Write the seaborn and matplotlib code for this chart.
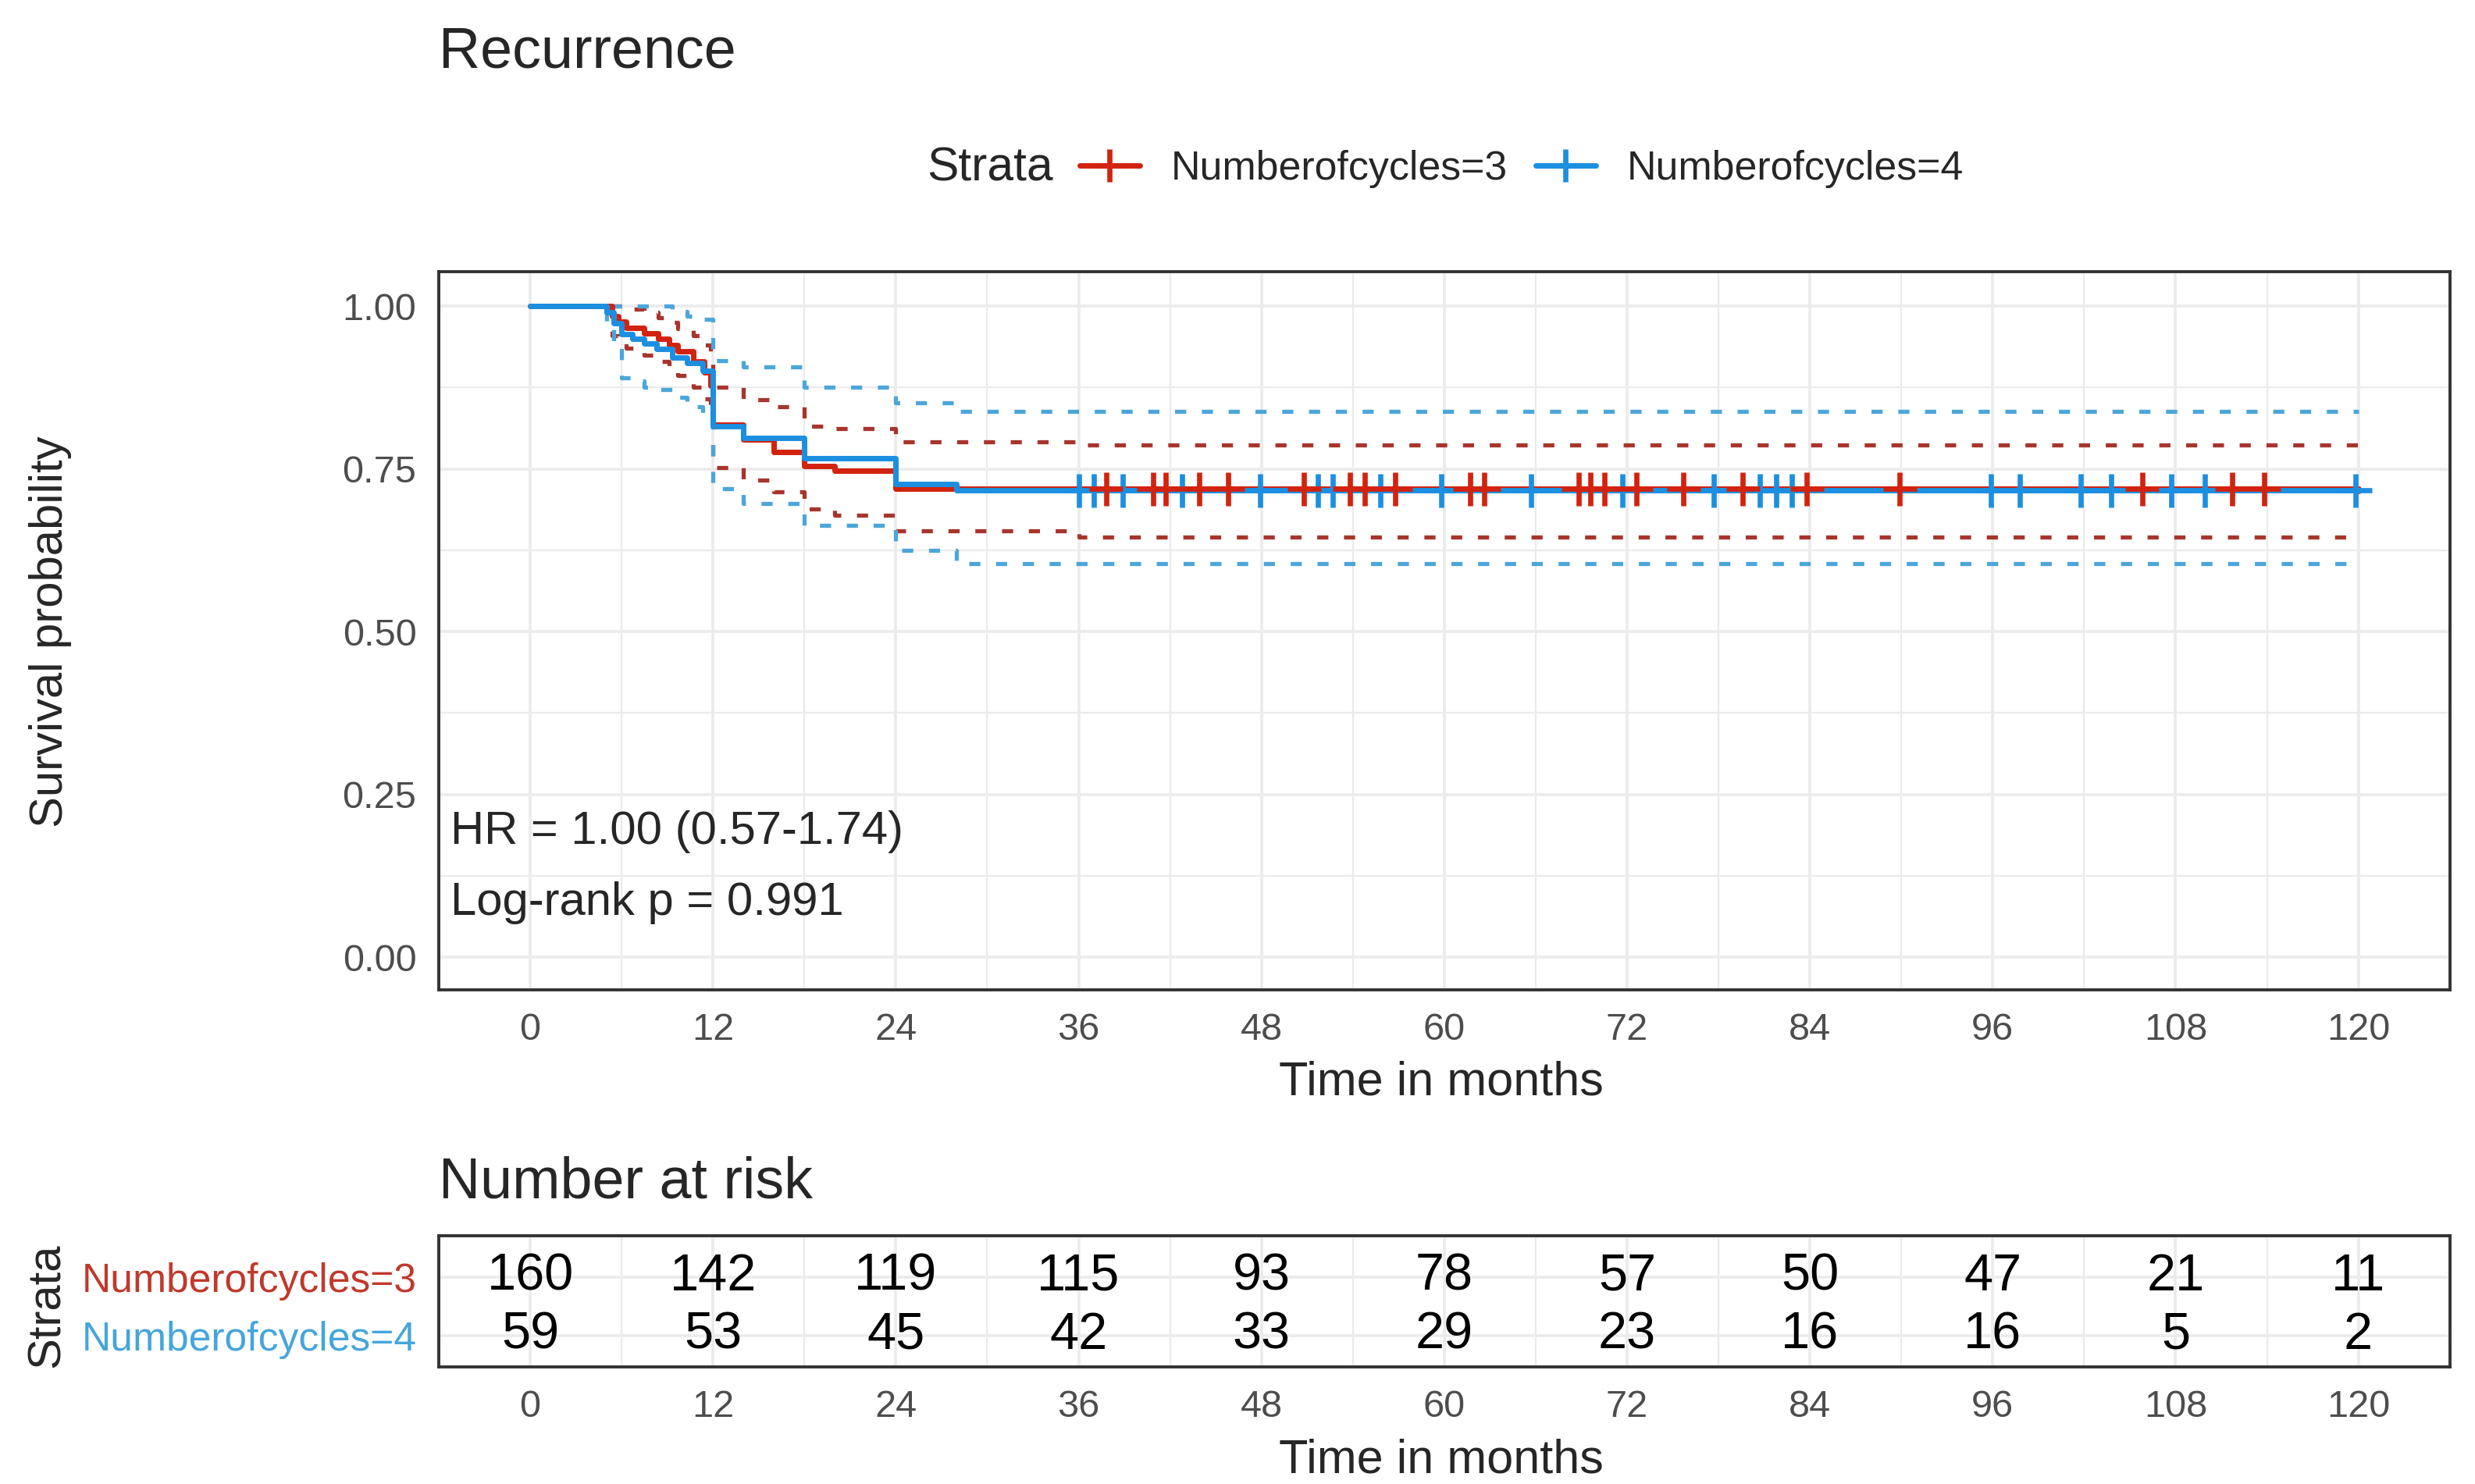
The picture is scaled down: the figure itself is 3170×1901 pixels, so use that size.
import numpy as np
import pandas as pd
import matplotlib
matplotlib.use('Agg')
import matplotlib.pyplot as plt
from matplotlib.lines import Line2D
from matplotlib.ticker import MultipleLocator
import seaborn as sns

# Kaplan-Meier steps (months, survival)
red_t = [0, 5.4, 5.8, 6.3, 7.5, 8.4, 9.1, 9.7, 10.7, 11.4, 11.85, 12.0, 14.0, 16.0, 18.0, 20.0, 24.0, 120]
red_s = [1.0, 0.985, 0.976, 0.966, 0.958, 0.950, 0.940, 0.930, 0.915, 0.898, 0.878, 0.818, 0.795, 0.776,
         0.754, 0.747, 0.719, 0.716]
red_up = [1.0, 1.0, 1.0, 0.995, 0.990, 0.982, 0.975, 0.965, 0.955, 0.940, 0.925, 0.876, 0.856, 0.845,
          0.816, 0.812, 0.792, 0.792]
red_lo = [1.0, 0.955, 0.945, 0.935, 0.925, 0.915, 0.905, 0.893, 0.876, 0.857, 0.835, 0.752, 0.733, 0.715,
          0.689, 0.679, 0.655, 0.655]
red_lo_t36 = 0.645
red_up_t36 = 0.787

blue_t = [0, 5.0, 5.5, 6.0, 6.7, 7.5, 8.3, 9.3, 10.3, 11.3, 12.0, 14.0, 18.0, 24.0, 28.0, 120]
blue_s = [1.0, 0.990, 0.974, 0.957, 0.950, 0.942, 0.934, 0.921, 0.913, 0.900, 0.816, 0.798, 0.766,
          0.727, 0.717, 0.717]
blue_up = [1.0, 1.0, 1.0, 1.0, 1.0, 1.0, 1.0, 0.992, 0.985, 0.980, 0.916, 0.906, 0.876, 0.852, 0.838, 0.838]
blue_lo = [1.0, 0.970, 0.940, 0.890, 0.885, 0.875, 0.872, 0.860, 0.846, 0.835, 0.719, 0.697, 0.663,
           0.625, 0.605, 0.605]

red_cens = [37.8, 40.9, 41.7, 43.9, 45.8, 50.8, 53.8, 54.8, 56.8, 61.7, 62.6, 68.8, 69.6, 70.5, 72.6,
            75.7, 79.6, 83.8, 89.9, 105.8, 111.7, 113.8]
blue_cens = [36.0, 37.0, 38.9, 42.8, 47.9, 51.7, 52.7, 55.8, 59.8, 65.7, 71.7, 77.7, 80.7, 81.8, 82.8,
             95.9, 97.8, 101.8, 103.8, 107.7, 109.9, 119.8]

risk_times = [0, 12, 24, 36, 48, 60, 72, 84, 96, 108, 120]
risk_red = [160, 142, 119, 115, 93, 78, 57, 50, 47, 21, 11]
risk_blue = [59, 53, 45, 42, 33, 29, 23, 16, 16, 5, 2]

labels = ['Numberofcycles=3', 'Numberofcycles=4']
RED = '#D2230E'
BLUE = '#1C8FE0'
RED_CI = '#A8352C'
BLUE_CI = '#4BA6DA'

sns.set_style('white')
plt.rcParams['font.family'] = ['Liberation Sans', 'DejaVu Sans']

fig = plt.figure(figsize=(15.85, 9.505), dpi=200)
W, H = 1568.0, 940.0
ax = fig.add_axes([278 / W, 1 - 627 / H, 1274 / W, 455 / H])
ax2 = fig.add_axes([278 / W, 1 - 866 / H, 1274 / W, 83 / H])


def surv_at(t, s, x):
    idx = np.searchsorted(t, x, side='right') - 1
    return np.array(s)[idx]


# red CI has a small extra step at 36 months
red_ci_t = red_t[:-1] + [36, 120]
red_up_full = red_up[:-1] + [red_up_t36, red_up_t36]
red_lo_full = red_lo[:-1] + [red_lo_t36, red_lo_t36]

dash = (2.7, 3.8)
for tt, yy, c in [(red_ci_t, red_up_full, RED_CI), (red_ci_t, red_lo_full, RED_CI),
                  (blue_t, blue_up, BLUE_CI), (blue_t, blue_lo, BLUE_CI)]:
    sns.lineplot(x=tt, y=yy, ax=ax, color=c, lw=1.9, drawstyle='steps-post',
                 estimator=None, sort=False, linestyle=(0, dash))

sns.lineplot(x=red_t, y=red_s, ax=ax, color=RED, lw=2.5, drawstyle='steps-post',
             estimator=None, sort=False)
sns.lineplot(x=blue_t, y=blue_s, ax=ax, color=BLUE, lw=2.5, drawstyle='steps-post',
             estimator=None, sort=False)

cens = pd.DataFrame({
    'time': blue_cens + red_cens,
    'surv': list(surv_at(blue_t, blue_s, blue_cens)) + list(surv_at(red_t, red_s, red_cens)),
    'group': [labels[1]] * len(blue_cens) + [labels[0]] * len(red_cens),
})
sns.scatterplot(data=cens, x='time', y='surv', hue='group', palette={labels[0]: RED, labels[1]: BLUE},
                marker='+', s=240, linewidth=2.4, ax=ax, legend=False, zorder=5)

grid_c = '#EBEBEB'
for a in (ax, ax2):
    a.set_xlim(-6, 126)
    a.set_xticks(risk_times)
    a.xaxis.set_minor_locator(MultipleLocator(6))
    a.grid(which='major', color=grid_c, lw=1.3)
    a.grid(which='minor', color=grid_c, lw=0.8)
    a.set_axisbelow(True)
    for sp in a.spines.values():
        sp.set_color('#333333')
        sp.set_linewidth(1.4)
    a.tick_params(which='major', length=4.3, width=1.4, color='#333333', labelsize=17.5,
                  labelcolor='#4D4D4D', pad=6)
    a.tick_params(which='minor', length=0)
    a.set_xlabel('')
    a.set_ylabel('')

ax.set_ylim(-0.05, 1.053)
ax.set_yticks([0, 0.25, 0.5, 0.75, 1.0])
ax.set_yticklabels(['0.00', '0.25', '0.50', '0.75', '1.00'])
ax.yaxis.set_minor_locator(MultipleLocator(0.125))

ax.text(0.006, 0.22, 'HR = 1.00 (0.57-1.74)', transform=ax.transAxes, fontsize=21.5, va='center', ha='left')
ax.text(0.006, 0.121, 'Log-rank p = 0.991', transform=ax.transAxes, fontsize=21.5, va='center', ha='left')

# risk table
ax2.set_ylim(0.46, 2.70)
ax2.set_yticks([2, 1])
ax2.set_yticklabels(labels, fontsize=18.6)
for lab, c in zip(ax2.get_yticklabels(), ['#C0392B', '#45A5DC']):
    lab.set_color(c)
for x, r, b in zip(risk_times, risk_red, risk_blue):
    ax2.text(x, 2, str(r), ha='center', va='center', fontsize=24, color='black')
    ax2.text(x, 1, str(b), ha='center', va='center', fontsize=24, color='black')

# titles and labels
fig.text(278 / W, 1 - 33 / H, 'Recurrence', fontsize=26.5, ha='left', va='center')
fig.text(278 / W, 1 - 749 / H, 'Number at risk', fontsize=26.5, ha='left', va='center')
fig.text(32 / W, 1 - 400 / H, 'Survival probability', fontsize=21.5, rotation=90, ha='center', va='center')
fig.text(913 / W, 1 - 686 / H, 'Time in months', fontsize=22, ha='center', va='center')
fig.text(913 / W, 1 - 925 / H, 'Time in months', fontsize=22, ha='center', va='center')
fig.text(30 / W, 1 - 827 / H, 'Strata', fontsize=21.5, rotation=90, ha='center', va='center')

# legend on top
fig.text(587 / W, 1 - 107 / H, 'Strata', fontsize=21.8, ha='left', va='center')
handles = [Line2D([0], [0], color=RED, lw=2.5, marker='+', markersize=15, mew=2.4),
           Line2D([0], [0], color=BLUE, lw=2.5, marker='+', markersize=15, mew=2.4)]
fig.legend(handles, labels, loc='center left', bbox_to_anchor=(684 / W, 1 - 107 / H), ncol=2,
           frameon=False, fontsize=18.7, handlelength=1.48, handletextpad=0.78, columnspacing=0.68,
           borderpad=0, borderaxespad=0)

fig.savefig('out.png', dpi=200)
